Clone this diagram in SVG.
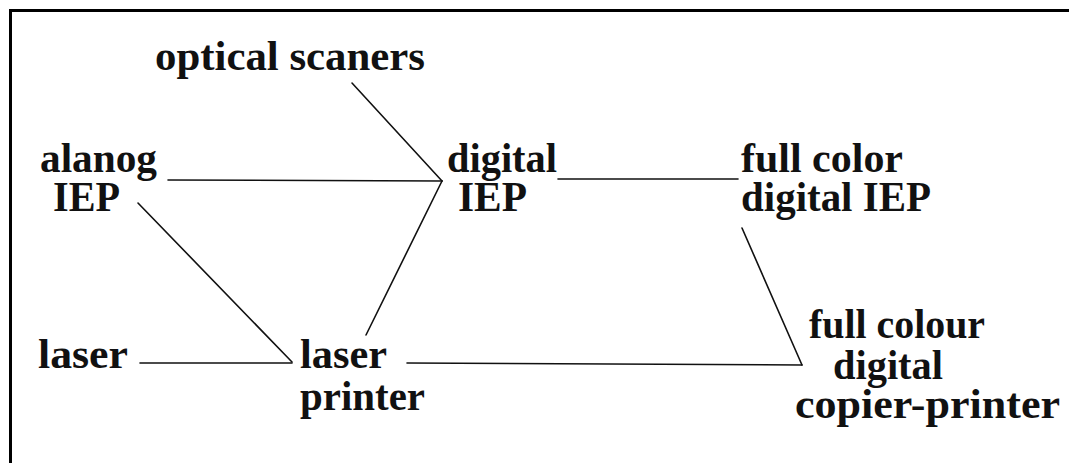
<svg xmlns="http://www.w3.org/2000/svg" width="1069" height="466" viewBox="0 0 1069 466">
  <style>
    .lbl { font-family: "Liberation Serif", "Times New Roman", serif; font-size: 43px; font-weight: bold; fill: #111; }
    .edge { stroke: #111; stroke-width: 1.6; fill: none; stroke-linecap: round; }
    .frame { stroke: #000; stroke-width: 3; fill: none; }
  </style>
  <rect width="1069" height="466" fill="#fff"/>
  <!-- frame: top and left rules only -->
  <path class="frame" d="M10.5 463 V10.5 H1069"/>

  <g id="connectors">
    <line class="edge" x1="352" y1="83" x2="442" y2="181"/>
    <line class="edge" x1="168" y1="180" x2="442" y2="181"/>
    <line class="edge" x1="442" y1="181" x2="366" y2="335"/>
    <line class="edge" x1="558" y1="179" x2="738" y2="179"/>
    <line class="edge" x1="138" y1="203" x2="292" y2="362"/>
    <line class="edge" x1="140" y1="363" x2="292" y2="363"/>
    <line class="edge" x1="407" y1="363" x2="802" y2="365"/>
    <line class="edge" x1="742" y1="228" x2="802" y2="365"/>
  </g>

  <g id="optical-scaners">
    <text class="lbl" x="155" y="70" textLength="270" lengthAdjust="spacingAndGlyphs">optical scaners</text>
  </g>
  <g id="alanog-iep">
    <text class="lbl" x="40" y="172" textLength="117" lengthAdjust="spacingAndGlyphs">alanog</text>
    <text class="lbl" x="53" y="211" textLength="67" lengthAdjust="spacingAndGlyphs">IEP</text>
  </g>
  <g id="digital-iep">
    <text class="lbl" x="447" y="172" textLength="110" lengthAdjust="spacingAndGlyphs">digital</text>
    <text class="lbl" x="458" y="211" textLength="69" lengthAdjust="spacingAndGlyphs">IEP</text>
  </g>
  <g id="full-color-digital-iep">
    <text class="lbl" x="741" y="172" textLength="162" lengthAdjust="spacingAndGlyphs">full color</text>
    <text class="lbl" x="741" y="211" textLength="190" lengthAdjust="spacingAndGlyphs">digital IEP</text>
  </g>
  <g id="laser">
    <text class="lbl" x="38" y="368" textLength="90" lengthAdjust="spacingAndGlyphs">laser</text>
  </g>
  <g id="laser-printer">
    <text class="lbl" x="300" y="368" textLength="87" lengthAdjust="spacingAndGlyphs">laser</text>
    <text class="lbl" x="300" y="410" textLength="125" lengthAdjust="spacingAndGlyphs">printer</text>
  </g>
  <g id="full-colour-digital-copier-printer">
    <text class="lbl" x="809" y="338" textLength="176" lengthAdjust="spacingAndGlyphs">full colour</text>
    <text class="lbl" x="833" y="379" textLength="110" lengthAdjust="spacingAndGlyphs">digital</text>
    <text class="lbl" x="795" y="418" textLength="265" lengthAdjust="spacingAndGlyphs">copier-printer</text>
  </g>
</svg>
